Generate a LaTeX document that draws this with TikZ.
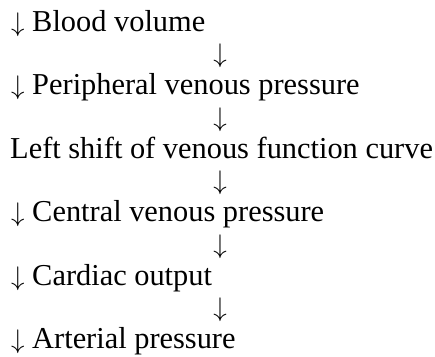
\RequirePackage{fix-cm}
\documentclass[tikz,border=0pt]{standalone}
\usepackage{tikz}
\usepackage{fontspec}
\setmainfont{Liberation Serif}
\newcommand{\dnarrow}{{\fontsize{27}{30}\selectfont$\downarrow$}}

\begin{document}
\begin{tikzpicture}[x=1bp,y=1bp,font=\fontsize{30.5}{34}\selectfont,
    stage/.style={anchor=base west,inner sep=0pt},
    down/.style={anchor=base,inner sep=0pt}]
  \useasboundingbox (0,0) rectangle (435,-356);
  % the chain of effects
  \node[stage] (bv)  at (11,-31)    {\dnarrow\ Blood volume};
  \node[stage] (pvp) at (11,-94.5)  {\dnarrow\ Peripheral venous pressure};
  \node[stage] (ls)  at (10,-158)   {Left shift of venous function curve};
  \node[stage] (cvp) at (11,-221.5) {\dnarrow\ Central venous pressure};
  \node[stage] (co)  at (11,-285)   {\dnarrow\ Cardiac output};
  \node[stage] (ap)  at (11,-348.5) {\dnarrow\ Arterial pressure};
  % arrows in between
  \node[down] (d1) at (220,-62.75)  {\dnarrow};
  \node[down] (d2) at (220,-126.25) {\dnarrow};
  \node[down] (d3) at (220,-189.75) {\dnarrow};
  \node[down] (d4) at (220,-253.25) {\dnarrow};
  \node[down] (d5) at (220,-316.75) {\dnarrow};
\end{tikzpicture}
\end{document}
